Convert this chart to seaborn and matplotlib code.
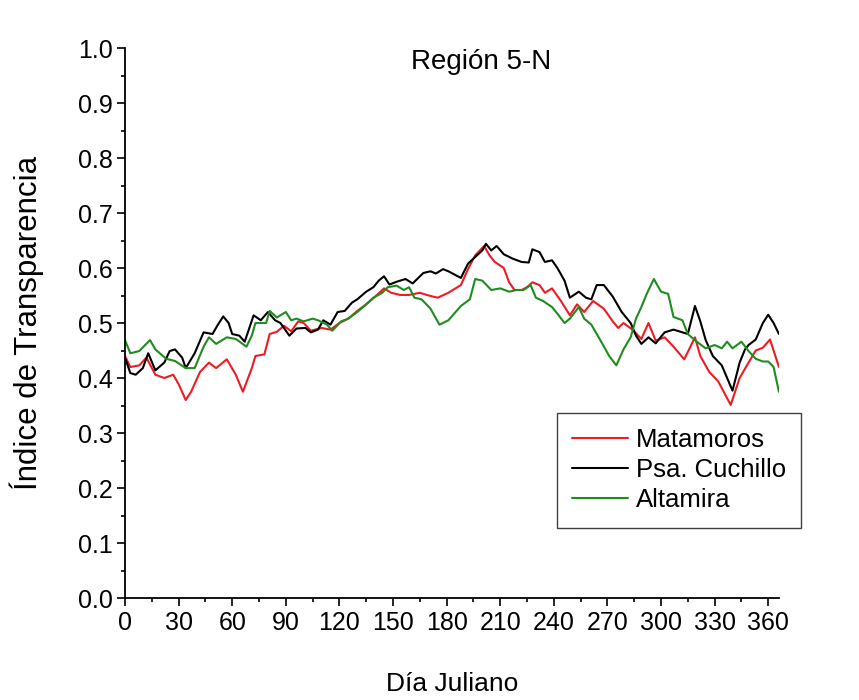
import numpy as np
import pandas as pd
import matplotlib
matplotlib.use("Agg")
import matplotlib.pyplot as plt
from matplotlib.ticker import MultipleLocator
import seaborn as sns

# ---- data ----
stations = ["Matamoros", "Psa. Cuchillo", "Altamira"]
colors = ["#ec1c24", "#000000", "#1f8c1f"]

days_mat = [0, 3, 8, 12, 17, 22, 27, 30, 34, 37, 42, 47, 51, 57, 62, 66, 71, 73, 78, 81,
            85, 89, 93, 97, 100, 104, 110, 115, 120, 125, 130, 135, 140, 145, 149, 154, 159,
            165, 170, 175, 181, 188, 192, 196, 201, 204, 207, 212, 215, 218, 222, 225, 228,
            232, 235, 239, 244, 249, 253, 257, 262, 268, 273, 276, 279, 284, 289, 293, 297,
            302, 307, 313, 319, 322, 327, 332, 339, 344, 349, 353, 357, 361, 363, 366]
vals_mat = [0.44, 0.42, 0.423, 0.437, 0.406, 0.40, 0.406, 0.389, 0.36, 0.375, 0.411, 0.428,
            0.418, 0.434, 0.406, 0.375, 0.418, 0.44, 0.443, 0.48, 0.484, 0.495, 0.485, 0.503,
            0.50, 0.486, 0.491, 0.488, 0.50, 0.508, 0.522, 0.534, 0.548, 0.563, 0.555, 0.551,
            0.551, 0.555, 0.55, 0.546, 0.555, 0.569, 0.598, 0.623, 0.64, 0.623, 0.611, 0.60,
            0.574, 0.56, 0.56, 0.565, 0.574, 0.569, 0.555, 0.563, 0.54, 0.514, 0.534, 0.52,
            0.54, 0.526, 0.503, 0.491, 0.50, 0.488, 0.471, 0.50, 0.468, 0.474, 0.457, 0.434,
            0.474, 0.44, 0.411, 0.394, 0.351, 0.40, 0.428, 0.45, 0.455, 0.47, 0.45, 0.42]

days_psa = [0, 3, 6, 10, 13, 17, 22, 25, 28, 32, 34, 39, 44, 49, 52, 55, 58, 60, 64, 67,
            72, 76, 80, 84, 87, 92, 96, 101, 104, 108, 111, 115, 119, 123, 127, 130, 135,
            139, 142, 145, 148, 152, 157, 161, 167, 171, 174, 178, 181, 188, 192, 195, 200,
            202, 205, 208, 212, 217, 222, 226, 228, 232, 235, 239, 242, 246, 249, 254, 258,
            261, 264, 268, 273, 278, 283, 286, 289, 293, 297, 302, 307, 310, 315, 319, 322,
            325, 329, 334, 340, 344, 347, 349, 353, 357, 360, 363, 366]
vals_psa = [0.437, 0.409, 0.406, 0.418, 0.445, 0.414, 0.428, 0.449, 0.452, 0.437, 0.418,
            0.445, 0.483, 0.48, 0.497, 0.512, 0.50, 0.48, 0.477, 0.466, 0.514, 0.505, 0.52,
            0.505, 0.50, 0.477, 0.49, 0.491, 0.483, 0.488, 0.505, 0.497, 0.52, 0.522, 0.537,
            0.543, 0.557, 0.565, 0.577, 0.585, 0.57, 0.575, 0.58, 0.572, 0.591, 0.594, 0.59,
            0.598, 0.594, 0.582, 0.608, 0.617, 0.632, 0.644, 0.632, 0.64, 0.625, 0.617, 0.611,
            0.61, 0.634, 0.629, 0.611, 0.614, 0.60, 0.577, 0.546, 0.557, 0.546, 0.543, 0.569,
            0.569, 0.548, 0.52, 0.50, 0.477, 0.462, 0.474, 0.463, 0.483, 0.488, 0.485, 0.48,
            0.531, 0.503, 0.469, 0.44, 0.423, 0.377, 0.428, 0.452, 0.46, 0.47, 0.50, 0.515,
            0.50, 0.48]

days_alt = [0, 3, 8, 14, 17, 23, 28, 34, 39, 44, 47, 51, 57, 62, 68, 71, 73, 79, 81, 85,
            90, 93, 96, 100, 105, 108, 113, 116, 121, 125, 130, 134, 139, 144, 147, 152, 156,
            159, 162, 166, 171, 176, 181, 188, 193, 196, 200, 205, 210, 215, 219, 223, 227,
            230, 234, 239, 242, 246, 249, 254, 257, 261, 266, 271, 275, 279, 283, 286, 289,
            292, 296, 300, 304, 307, 312, 315, 320, 325, 330, 334, 337, 340, 345, 349, 353,
            357, 360, 363, 366]
vals_alt = [0.469, 0.445, 0.449, 0.469, 0.452, 0.435, 0.431, 0.418, 0.418, 0.457, 0.474,
            0.462, 0.474, 0.471, 0.457, 0.477, 0.50, 0.50, 0.522, 0.51, 0.52, 0.505, 0.508,
            0.503, 0.508, 0.505, 0.497, 0.486, 0.503, 0.508, 0.52, 0.531, 0.546, 0.555, 0.565,
            0.568, 0.56, 0.565, 0.546, 0.543, 0.526, 0.497, 0.505, 0.531, 0.543, 0.58, 0.577,
            0.56, 0.563, 0.557, 0.56, 0.56, 0.569, 0.546, 0.54, 0.529, 0.517, 0.50, 0.508,
            0.529, 0.508, 0.497, 0.469, 0.44, 0.423, 0.452, 0.474, 0.508, 0.529, 0.553, 0.58,
            0.557, 0.553, 0.511, 0.505, 0.48, 0.466, 0.454, 0.46, 0.454, 0.466, 0.454, 0.466,
            0.449, 0.435, 0.43, 0.43, 0.42, 0.375]

x_ticks = [0, 30, 60, 90, 120, 150, 180, 210, 240, 270, 300, 330, 360]
y_ticks = [0.0, 0.1, 0.2, 0.3, 0.4, 0.5, 0.6, 0.7, 0.8, 0.9, 1.0]

title_text = "Región 5-N"
x_label = "Día Juliano"
y_label = "Índice de Transparencia"

# ---- build long table ----
frames = []
for name, d, v in zip(stations, [days_mat, days_psa, days_alt], [vals_mat, vals_psa, vals_alt]):
    frames.append(pd.DataFrame({"day": d, "value": v, "station": name}))
df = pd.concat(frames, ignore_index=True)

sns.set_style("ticks")
plt.rcParams["font.family"] = ["Liberation Sans", "DejaVu Sans"]
plt.rcParams["text.color"] = "black"
plt.rcParams["axes.labelcolor"] = "black"
plt.rcParams["xtick.color"] = "black"
plt.rcParams["ytick.color"] = "black"

fig = plt.figure(figsize=(8.59, 7.00), dpi=100)
ax = fig.add_axes([0.1455, 0.1457, 0.7613, 0.7857])

sns.lineplot(data=df, x="day", y="value", hue="station", hue_order=stations,
             palette=dict(zip(stations, colors)), estimator=None, sort=True,
             linewidth=1.5, ax=ax)

ax.set_xlim(0, 366)
ax.set_ylim(0, 1.0)
ax.set_xticks(x_ticks)
ax.set_yticks(y_ticks)
ax.set_yticklabels([f"{t:.1f}" for t in y_ticks])
ax.xaxis.set_minor_locator(MultipleLocator(15))
ax.yaxis.set_minor_locator(MultipleLocator(0.05))
ax.tick_params(which="major", direction="out", length=5.5, width=1.2, labelsize=18,
               color="black", labelcolor="black")
ax.tick_params(which="minor", direction="out", length=3.2, width=1.2, color="black")
sns.despine(ax=ax)
for s in ["left", "bottom"]:
    ax.spines[s].set_linewidth(1.3)
    ax.spines[s].set_color("black")

ax.set_xlabel(x_label, fontsize=19, labelpad=27, color="black")
ax.set_ylabel(y_label, fontsize=22.5, labelpad=24, color="black")
ax.text(0.545, 0.975, title_text, transform=ax.transAxes, ha="center", va="center",
        fontsize=20, color="black")

handles, labels = ax.get_legend_handles_labels()
leg = ax.legend(handles, labels, loc="upper left", bbox_to_anchor=(0.6606, 0.3364),
                fontsize=18.5, frameon=True, fancybox=False, edgecolor="#404040",
                framealpha=1, handlelength=2.15, handletextpad=0.31, labelspacing=0.23,
                borderpad=0.6, borderaxespad=0)
leg.get_frame().set_linewidth(1.0)
for t in leg.get_texts():
    t.set_color("black")
for h in leg.get_lines():
    h.set_linewidth(1.5)

fig.savefig("out.png", dpi=100)
